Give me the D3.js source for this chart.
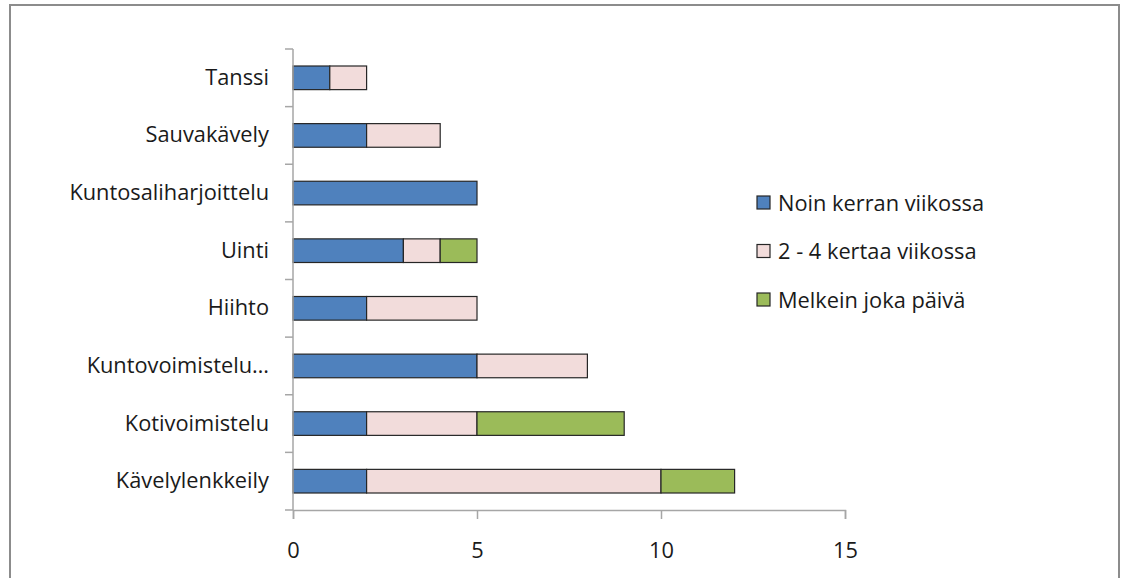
<!DOCTYPE html>
<html>
<head>
<meta charset="utf-8">
<script src="https://cdn.jsdelivr.net/npm/d3@7"></script>
<style>
  body { margin: 0; background: #fff; }
  text { font-family: "Open Sans", Lato, sans-serif; fill: #1a1a1a; }
</style>
</head>
<body>
<svg id="chart"></svg>
<script>
// categories from top to bottom, as in the picture
var categories = ["Tanssi", "Sauvakävely", "Kuntosaliharjoittelu", "Uinti", "Hiihto",
                  "Kuntovoimistelu…", "Kotivoimistelu", "Kävelylenkkeily"];
var seriesNames = ["Noin kerran viikossa", "2 - 4 kertaa viikossa", "Melkein joka päivä"];
var onceAWeek   = [1, 2, 5, 3, 2, 5, 2, 2];
var twoToFour   = [1, 2, 0, 1, 3, 3, 3, 8];
var almostDaily = [0, 0, 0, 1, 0, 0, 4, 2];
var xTicks = [0, 5, 10, 15];
var colors = ["#4F81BD", "#F2DCDB", "#9BBB59"];

var width = 1121, height = 578;
var margin = {left: 293, right: 276, top: 49, bottom: 68};
var fontSize = "21.8px";

var svg = d3.select("#chart")
    .attr("width", width)
    .attr("height", height);

// outer frame
svg.append("rect")
    .attr("x", 10).attr("y", 5)
    .attr("width", 1109).attr("height", 600)
    .attr("fill", "none")
    .attr("stroke", "#8c8c8c")
    .attr("stroke-width", 2);

var x = d3.scaleLinear().domain([0, 15]).range([margin.left, width - margin.right]);
var y = d3.scaleBand().domain(categories)
    .range([margin.top, height - margin.bottom])
    .paddingInner(0.59).paddingOuter(0.295);

var table = categories.map(function(c, i) {
    return {cat: c, s0: onceAWeek[i], s1: twoToFour[i], s2: almostDaily[i]};
});
var stack = d3.stack().keys(["s0", "s1", "s2"])(table);

var g = svg.append("g");
stack.forEach(function(layer, k) {
    g.selectAll(null)
        .data(layer.filter(function(d) { return d[1] > d[0]; }))
        .enter().append("rect")
        .attr("x", function(d) { return x(d[0]); })
        .attr("y", function(d) { return y(d.data.cat); })
        .attr("width", function(d) { return x(d[1]) - x(d[0]); })
        .attr("height", y.bandwidth())
        .attr("fill", colors[k])
        .attr("stroke", "#262626")
        .attr("stroke-width", 1.2);
});

// axes
var xAxis = svg.append("g")
    .attr("transform", "translate(0," + (height - margin.bottom) + ")")
    .call(d3.axisBottom(x).tickValues(xTicks).tickSize(9).tickPadding(24));
xAxis.selectAll("text").style("font-size", fontSize);

var yCats = d3.scaleBand().domain(categories).range([margin.top, height - margin.bottom]);
var yAxis = svg.append("g")
    .attr("transform", "translate(" + margin.left + ",0)")
    .call(d3.axisLeft(yCats).tickSize(0).tickPadding(24));
yAxis.selectAll("text").style("font-size", fontSize);
// tick marks on the band boundaries
yAxis.selectAll("line.bound")
    .data(d3.range(categories.length + 1))
    .enter().append("line")
    .attr("class", "bound")
    .attr("x1", -8).attr("x2", 0)
    .attr("y1", function(i) { return margin.top + i * yCats.step(); })
    .attr("y2", function(i) { return margin.top + i * yCats.step(); });

svg.selectAll(".domain, .tick line, line.bound")
    .attr("stroke", "#a6a6a6")
    .attr("stroke-width", 1.5);
yAxis.select(".domain").attr("d", "M0," + margin.top + "V" + (height - margin.bottom));

// legend
var legend = svg.append("g").attr("transform", "translate(757,203)");
seriesNames.forEach(function(name, i) {
    var row = legend.append("g").attr("transform", "translate(0," + (i * 48.5) + ")");
    row.append("rect")
        .attr("x", 0).attr("y", -7)
        .attr("width", 13).attr("height", 13)
        .attr("fill", colors[i])
        .attr("stroke", "#262626")
        .attr("stroke-width", 1.2);
    row.append("text")
        .attr("x", 21).attr("y", 0)
        .attr("dy", "0.35em")
        .style("font-size", fontSize)
        .text(name);
});
</script>
</body>
</html>
